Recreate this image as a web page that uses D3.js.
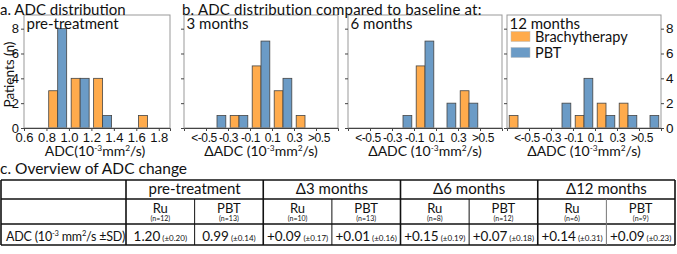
<!DOCTYPE html>
<meta charset="utf-8">
<script src="https://cdn.jsdelivr.net/npm/d3@7"></script>
<style>
body { margin: 0; background: #fff; }
svg { font-family: Lato, "Open Sans", sans-serif; fill: #111; }
.axis text { fill: #111; }
.axis path, .axis line { stroke: #444; }
</style>
<body>
<script>

var width = 677
var height = 254

// a. pre-treatment ADC, bins of 0.2 (start of bin)
var adcBinStart = [0.8, 1.0, 1.2, 1.4, 1.6]
var adcBrachy = [3, 4, 4, 0, 1]
var adcPBT = [8, 4, 1, 0, 0]
var adcTicks = [0.6, 0.8, 1.0, 1.2, 1.4, 1.6, 1.8]

// b. change vs baseline, bin centres (outer bins are <-0.5 and >0.5)
var deltaBinCenter = [-0.6, -0.4, -0.2, 0, 0.2, 0.4, 0.6]
var deltaTicks = [-0.5, -0.3, -0.1, 0.1, 0.3, 0.5]
var deltaTickLabels = ["<-0.5", "-0.3", "-0.1", "0.1", "0.3", ">0.5"]
var m3Brachy = [0, 0, 1, 5, 3, 1, 0]
var m3PBT = [0, 1, 1, 7, 4, 0, 0]
var m6Brachy = [0, 0, 0, 5, 0, 3, 0]
var m6PBT = [0, 0, 1, 7, 2, 2, 0]
var m12Brachy = [1, 0, 0, 1, 2, 2, 0]
var m12PBT = [0, 0, 2, 4, 1, 1, 1]
var countTicks = [0, 2, 4, 6, 8]

// c. table
var groups = ["pre-treatment", "Δ3 months", "Δ6 months", "Δ12 months"]
var arms = ["Ru", "PBT"]
var nPatients = [12, 13, 10, 13, 8, 12, 6, 9]
var meanADC = ["1.20", "0.99", "+0.09", "+0.01", "+0.15", "+0.07", "+0.14", "+0.09"]
var sdADC = ["0.20", "0.14", "0.17", "0.16", "0.19", "0.18", "0.31", "0.23"]

var orange = "#ffab4c"
var blue = "#6b9bc6"

var svg = d3.select("body").append("svg")
            .attr("width", width)
            .attr("height", height)

var top_ = 15, bottom = 128
var y = d3.scaleLinear().domain([0, 9.1]).range([bottom, top_])

// text with 10^-3 and mm^2 written as raised tspans
function unitText(sel, pre, gap) {
  sel.append("tspan").text(pre + "(10")
  sel.append("tspan").attr("dy", -5).style("font-size", "0.6em").text("-3")
  sel.append("tspan").attr("dy", 5).text(gap + "mm")
  sel.append("tspan").attr("dy", -5).style("font-size", "0.6em").text("2")
  sel.append("tspan").attr("dy", 5).text("/s" + (gap ? " ±SD)" : ")"))
}

function panel(left, right, x, centers, brachy, pbt, bw, label) {
  var g = svg.append("g")
  var rows = []
  centers.forEach(function(c, i) {
    rows.push({c: c, n: brachy[i], left: c - bw, color: orange})
    rows.push({c: c, n: pbt[i], left: c, color: blue})
  })
  g.selectAll("rect.bar").data(rows.filter(function(d) { return d.n > 0 }))
    .join("rect").attr("class", "bar")
    .attr("x", function(d) { return x(d.left) })
    .attr("width", function(d) { return x(d.left + bw) - x(d.left) })
    .attr("y", function(d) { return y(d.n) })
    .attr("height", function(d) { return y(0) - y(d.n) })
    .attr("fill", function(d) { return d.color })
    .attr("stroke", "#444").attr("stroke-width", 0.8)
  g.append("rect")
    .attr("x", left).attr("y", top_)
    .attr("width", right - left).attr("height", bottom - top_)
    .attr("fill", "none").attr("stroke", "#999")
  g.append("text").attr("x", left + 2.5).attr("y", top_ + 13.5)
    .style("font-size", "15px").text(label)
  return g
}

// panel a
var xa = d3.scaleLinear().domain([0.6, 1.9]).range([24, 170])
panel(24, 170, xa, adcBinStart.map(function(d) { return d + 0.1 }), adcBrachy, adcPBT, 0.08, "pre-treatment")
svg.append("g").attr("class", "axis")
   .attr("transform", "translate(0," + bottom + ")")
   .call(d3.axisBottom(xa).tickValues(adcTicks).tickSize(3).tickPadding(2).tickFormat(d3.format(".1f")))
   .selectAll("text").style("font-size", "13px")
svg.append("g").attr("class", "axis")
   .attr("transform", "translate(24,0)")
   .call(d3.axisLeft(y).tickValues(countTicks).tickSize(3).tickPadding(2))
   .call(function(g) { g.select(".domain").remove() })
   .selectAll("text").style("font-size", "13px")
svg.append("text")
   .attr("transform", "translate(13.5," + ((top_ + bottom) / 2 + 3) + ") rotate(-90)")
   .style("text-anchor", "middle").style("font-size", "13.5px")
   .text("Patients (n)")
svg.append("text").attr("x", 95).attr("y", 156)
   .style("text-anchor", "middle").style("font-size", "14px")
   .call(unitText, "ADC", "")

// panel b
var deltaPanels = [
  {left: 184, label: "3 months", brachy: m3Brachy, pbt: m3PBT},
  {left: 348, label: "6 months", brachy: m6Brachy, pbt: m6PBT},
  {left: 507, label: "12 months", brachy: m12Brachy, pbt: m12PBT}
]
deltaPanels.forEach(function(p, k) {
  var right = p.left + 154
  var x = d3.scaleLinear().domain([-0.7, 0.7]).range([p.left, right])
  panel(p.left, right, x, deltaBinCenter, p.brachy, p.pbt, 0.08, p.label)
  svg.append("g").attr("class", "axis")
     .attr("transform", "translate(0," + bottom + ")")
     .call(d3.axisBottom(x).tickValues(deltaTicks).tickSize(3).tickPadding(2)
       .tickFormat(function(d, i) { return deltaTickLabels[i] }))
     .selectAll("text").style("font-size", "12px").style("letter-spacing", "-0.4px")
     .attr("dx", function(d, i) { return i == 0 ? -2.5 : (i == 5 ? 2.5 : 0) })
  svg.append("g").attr("class", "axis")
     .attr("transform", "translate(" + p.left + ",0)")
     .call(d3.axisLeft(y).tickValues(countTicks).tickSize(3).tickFormat(""))
     .call(function(g) { g.select(".domain").remove() })
  svg.append("text").attr("x", (p.left + right) / 2).attr("y", 156)
     .style("text-anchor", "middle").style("font-size", "14px")
     .call(unitText, "ΔADC ", "")
  if (k == 2) {
    svg.append("g").attr("class", "axis")
       .attr("transform", "translate(" + right + ",0)")
       .call(d3.axisRight(y).tickValues(countTicks).tickSize(3).tickPadding(2))
       .call(function(g) { g.select(".domain").remove() })
       .selectAll("text").style("font-size", "13.5px")
    var leg = svg.append("g").attr("transform", "translate(" + (p.left + 4) + ",31.5)")
    leg.selectAll("rect").data([orange, blue]).join("rect")
       .attr("x", 0).attr("y", function(d, i) { return i * 16 })
       .attr("width", 19).attr("height", 10)
       .attr("fill", function(d) { return d })
       .attr("stroke", "#bbb").attr("stroke-width", 0.5)
    leg.selectAll("text").data(["Brachytherapy", "PBT"]).join("text")
       .attr("x", 24).attr("y", function(d, i) { return i * 16 + 10.5 })
       .style("font-size", "14.5px").text(function(d) { return d })
  }
})

// titles
svg.append("text").attr("x", 0).attr("y", 14.5).style("font-size", "15px").text("a. ADC distribution")
svg.append("text").attr("x", 182).attr("y", 14.5).style("font-size", "15px")
   .style("letter-spacing", "0.2px").text("b. ADC distribution compared to baseline at:")
svg.append("text").attr("x", 0).attr("y", 174).style("font-size", "15.5px").text("c. Overview of ADC change")

// table
var rowY = [180, 199, 224, 245]
var col = d3.scaleBand().domain(d3.range(8)).range([126, 675])
var t = svg.append("g")
t.selectAll("line.h").data(rowY).join("line")
  .attr("x1", 1).attr("x2", 675)
  .attr("y1", function(d) { return d }).attr("y2", function(d) { return d })
  .attr("stroke", "#111").attr("stroke-width", 1.3)
var vx = [1, 126].concat(d3.range(1, 9).map(function(i) { return i < 8 ? col(i) : 675 }))
t.selectAll("line.v").data(vx).join("line")
  .attr("x1", function(d) { return d }).attr("x2", function(d) { return d })
  .attr("y1", function(d, i) { return (i > 1 && i % 2 == 0) ? rowY[1] : rowY[0] })
  .attr("y2", rowY[3])
  .attr("stroke", function(d, i) { return i == 8 ? "#777" : "#111" })
  .attr("stroke-width", function(d, i) { return (i > 1 && i % 2 == 0) ? 1 : 1.6 })

t.selectAll("text.grp").data(groups).join("text")
  .attr("x", function(d, i) { return col(i * 2) + col.bandwidth() })
  .attr("y", 194).style("text-anchor", "middle").style("font-size", "15px")
  .text(function(d) { return d })

var cells = d3.range(8)
t.selectAll("text.arm").data(cells).join("text")
  .attr("x", function(i) { return col(i) + col.bandwidth() / 2 })
  .attr("y", 212.5).style("text-anchor", "middle").style("font-size", "13px")
  .text(function(i) { return arms[i % 2] })
t.selectAll("text.n").data(cells).join("text")
  .attr("x", function(i) { return col(i) + col.bandwidth() / 2 })
  .attr("y", 221).style("text-anchor", "middle").style("font-size", "7px")
  .text(function(i) { return "(n=" + nPatients[i] + ")" })

t.append("text").attr("x", 6).attr("y", 241).style("font-size", "12.5px")
  .style("letter-spacing", "-0.2px")
  .call(unitText, "ADC ", " ")
var vals = t.selectAll("text.val").data(cells).join("text")
  .attr("x", function(i) { return col(i) + col.bandwidth() / 2 })
  .attr("y", 241).style("text-anchor", "middle")
vals.append("tspan").style("font-size", "13.5px").text(function(i) { return meanADC[i] })
vals.append("tspan").style("font-size", "8px").text(function(i) { return " (±" + sdADC[i] + ")" })

</script>
</body>
